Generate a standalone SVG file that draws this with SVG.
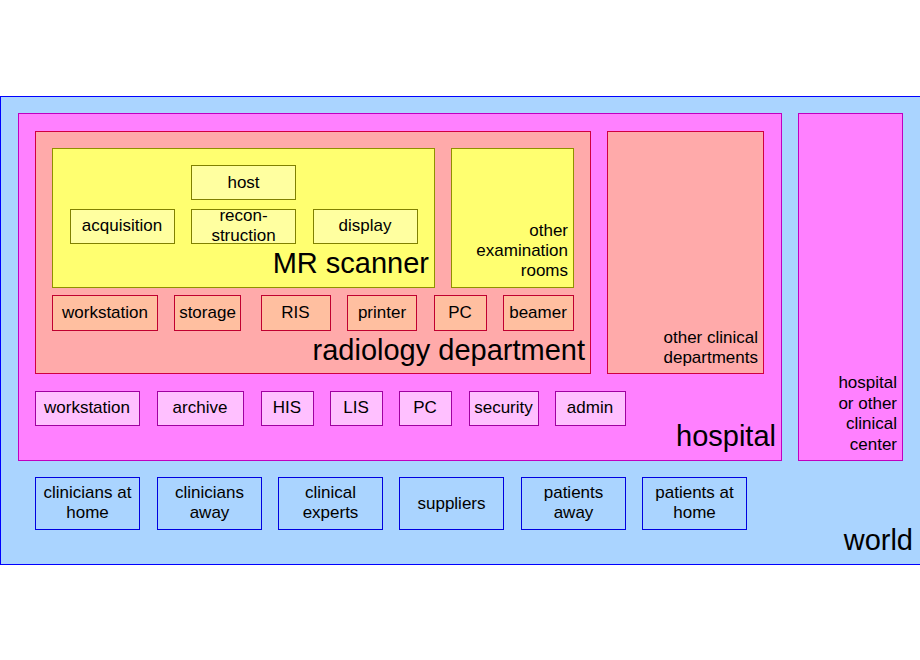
<svg xmlns="http://www.w3.org/2000/svg" width="920" height="660" viewBox="0 0 920 660">
<style>
text{font-family:"Liberation Sans",Arial,sans-serif;fill:#000}
.w{fill:#aad4ff;stroke:#0000ff}
.h{fill:#ff80ff;stroke:#c000c0}
.r{fill:#ffaaaa;stroke:#d00040}
.s{fill:#ffff70;stroke:#909000}
.sb{fill:#ffffa0;stroke:#808000}
.rb{fill:#ffbfa0;stroke:#c00030}
.hb{fill:#ffc0ff;stroke:#a000a0}
.wb{fill:#aad4ff;stroke:#0000e0}
.t{font-size:17px;text-anchor:middle}
.b{font-size:29px;text-anchor:end}
.m{font-size:17px;text-anchor:end}
</style>
<rect width="920" height="660" fill="#fff"/>
<g id="world"><rect class="w" x="0.5" y="96.5" width="920" height="468"/><text class="b" x="913" y="550">world</text></g>
<g id="hospital"><rect class="h" x="18.5" y="113.5" width="763" height="347"/><text class="b" x="776" y="446">hospital</text></g>
<g id="radiology"><rect class="r" x="35.5" y="131.5" width="555" height="242"/><text class="b" x="585" y="360">radiology department</text></g>
<g id="scanner"><rect class="s" x="52.5" y="148.5" width="382" height="139"/><text class="b" x="429" y="273">MR scanner</text></g>
<g id="host"><rect class="sb" x="191.5" y="165.5" width="104" height="34"/><text class="t" x="243.5" y="188">host</text></g>
<g id="acquisition"><rect class="sb" x="70.5" y="209.5" width="104" height="34"/><text class="t" x="122" y="231">acquisition</text></g>
<g id="reconstruction"><rect class="sb" x="191.5" y="209.5" width="104" height="34"/><text class="t" x="243.5" y="221">recon-</text><text class="t" x="243.5" y="241">struction</text></g>
<g id="display"><rect class="sb" x="313.5" y="209.5" width="104" height="34"/><text class="t" x="365" y="231">display</text></g>
<g id="otherexam"><rect class="s" x="451.5" y="148.5" width="122" height="139"/><text class="m" x="568" y="236">other</text><text class="m" x="568" y="256">examination</text><text class="m" x="568" y="276">rooms</text></g>
<g id="r-workstation"><rect class="rb" x="52.5" y="295.5" width="105" height="35"/><text class="t" x="105" y="318">workstation</text></g>
<g id="r-storage"><rect class="rb" x="174.5" y="295.5" width="66" height="35"/><text class="t" x="207.5" y="318">storage</text></g>
<g id="r-ris"><rect class="rb" x="261.5" y="295.5" width="69" height="35"/><text class="t" x="295.5" y="318">RIS</text></g>
<g id="r-printer"><rect class="rb" x="347.5" y="295.5" width="69" height="35"/><text class="t" x="382" y="318">printer</text></g>
<g id="r-pc"><rect class="rb" x="434.5" y="295.5" width="52" height="35"/><text class="t" x="460" y="318">PC</text></g>
<g id="r-beamer"><rect class="rb" x="503.5" y="295.5" width="70" height="35"/><text class="t" x="538" y="318">beamer</text></g>
<g id="otherclinical"><rect class="r" x="607.5" y="131.5" width="156" height="242"/><text class="m" x="758" y="343">other clinical</text><text class="m" x="758" y="363">departments</text></g>
<g id="h-workstation"><rect class="hb" x="35.5" y="391.5" width="104" height="34"/><text class="t" x="87" y="413">workstation</text></g>
<g id="h-archive"><rect class="hb" x="157.5" y="391.5" width="86" height="34"/><text class="t" x="200" y="413">archive</text></g>
<g id="h-his"><rect class="hb" x="261.5" y="391.5" width="52" height="34"/><text class="t" x="287" y="413">HIS</text></g>
<g id="h-lis"><rect class="hb" x="330.5" y="391.5" width="52" height="34"/><text class="t" x="356" y="413">LIS</text></g>
<g id="h-pc"><rect class="hb" x="399.5" y="391.5" width="52" height="34"/><text class="t" x="425" y="413">PC</text></g>
<g id="h-security"><rect class="hb" x="469.5" y="391.5" width="69" height="34"/><text class="t" x="503.5" y="413">security</text></g>
<g id="h-admin"><rect class="hb" x="555.5" y="391.5" width="70" height="34"/><text class="t" x="590" y="413">admin</text></g>
<g id="otherhospital"><rect class="h" x="798.5" y="113.5" width="104" height="347"/><text class="m" x="897" y="388">hospital</text><text class="m" x="897" y="409">or other</text><text class="m" x="897" y="429">clinical</text><text class="m" x="897" y="450">center</text></g>
<g id="cl-home"><rect class="wb" x="35.5" y="477.5" width="104" height="52"/><text class="t" x="87.5" y="498">clinicians at</text><text class="t" x="87.5" y="518">home</text></g>
<g id="cl-away"><rect class="wb" x="157.5" y="477.5" width="104" height="52"/><text class="t" x="209.5" y="498">clinicians</text><text class="t" x="209.5" y="518">away</text></g>
<g id="experts"><rect class="wb" x="278.5" y="477.5" width="104" height="52"/><text class="t" x="330.5" y="498">clinical</text><text class="t" x="330.5" y="518">experts</text></g>
<g id="suppliers"><rect class="wb" x="399.5" y="477.5" width="104" height="52"/><text class="t" x="451.5" y="509">suppliers</text></g>
<g id="pat-away"><rect class="wb" x="521.5" y="477.5" width="104" height="52"/><text class="t" x="573.5" y="498">patients</text><text class="t" x="573.5" y="518">away</text></g>
<g id="pat-home"><rect class="wb" x="642.5" y="477.5" width="104" height="52"/><text class="t" x="694.5" y="498">patients at</text><text class="t" x="694.5" y="518">home</text></g>
<g id="connectors"></g>
</svg>
